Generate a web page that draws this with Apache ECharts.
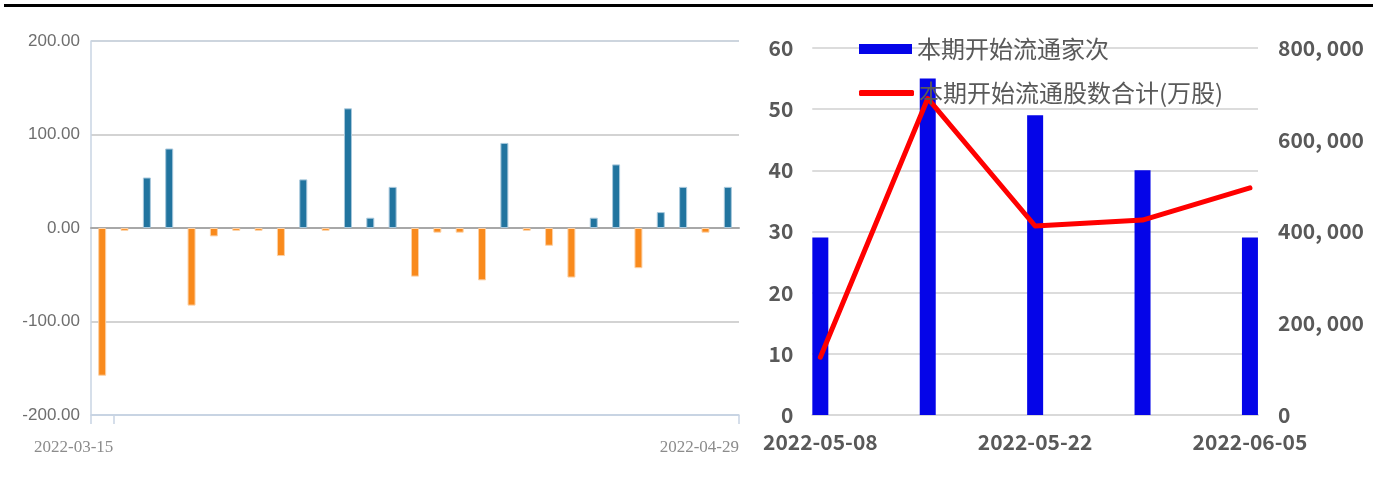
<!DOCTYPE html>
<html>
<head>
<meta charset="utf-8">
<title>流通股本变动</title>
<script src="https://cdn.jsdelivr.net/npm/echarts@6.0.0/dist/echarts.min.js"></script>
<style>
	html, body { margin: 0; padding: 0; background: #fff; }
	#topLine { position: absolute; left: 4px; top: 4px; width: 1369px; height: 3px; background: #000; }
	#chart1 { position: absolute; left: 0; top: 0; width: 760px; height: 477px; }
	#chart2 { position: absolute; left: 760px; top: 0; width: 621px; height: 477px; }
</style>
</head>
<body>
<div id="topLine"></div>
<div id="chart1"></div>
<div id="chart2"></div>
<script>
// 左图：每日净值（亿元）
var leftDates = ['2022-03-15','2022-03-17','2022-03-18','2022-03-21','2022-03-22','2022-03-24','2022-03-25',
	'2022-03-28','2022-03-29','2022-03-30','2022-03-31','2022-04-01','2022-04-06','2022-04-07','2022-04-08',
	'2022-04-11','2022-04-12','2022-04-14','2022-04-15','2022-04-18','2022-04-19','2022-04-20','2022-04-21',
	'2022-04-22','2022-04-25','2022-04-26','2022-04-27','2022-04-28','2022-04-29'];
var leftValues = [-158, -3, 54, 85, -83, -9, -3, -3, -30, 52, -3, 128, 11, 44, -52,
	-5, -5, -56, 91, -3, -19, -53, 11, 68, -43, 17, 44, -5, 44];
var leftTicks = [-200, -100, 0, 100, 200];

// 右图：解禁
var rightDates = ['2022-05-08','2022-05-15','2022-05-22','2022-05-29','2022-06-05'];
var rightCount = [29, 55, 49, 40, 29];
var rightShares = [126000, 690000, 412000, 425000, 495000];
var rightNames = ['本期开始流通家次', '本期开始流通股数合计(万股)'];

var Demo = {
	init: function () {
		Demo.initLeft();
		Demo.initRight();
	},

	initLeft: function () {
		var myChart = echarts.init(document.getElementById('chart1'));
		var barData = leftValues.map(function (v) {
			var up = v >= 0;
			return {
				value: v,
				itemStyle: {
					color: up ? '#21749f' : '#f98a1c',
					borderColor: up ? '#a8c8dc' : '#fcd1a6',
					borderWidth: 1
				}
			};
		});
		var option = {
			animation: false,
			grid: { left: 91, right: 21, top: 41, bottom: 62 },
			xAxis: [
				{
					type: 'category',
					data: leftDates,
					axisLine: { onZero: true, lineStyle: { color: '#a8a8a8', width: 2 } },
					axisTick: { show: false },
					axisLabel: { show: false }
				},
				{
					type: 'value',
					position: 'bottom',
					min: -0.5,
					max: leftDates.length - 0.5,
					splitLine: { show: false },
					axisLine: { show: true, onZero: false, lineStyle: { color: '#c8d4e3', width: 1.5 } },
					axisTick: { show: true, length: 9, customValues: [-0.5, 0.5, leftDates.length - 0.5], lineStyle: { color: '#c8d4e3', width: 1.5 } },
					axisLabel: {
						customValues: [0.5, leftDates.length - 0.5],
						formatter: function (v) { return leftDates[Math.floor(v)]; },
						align: 'right',
						margin: 24,
						color: '#8c8c8c',
						fontSize: 17,
						fontFamily: 'Liberation Serif'
					}
				}
			],
			yAxis: {
				type: 'value',
				min: leftTicks[0],
				max: leftTicks[leftTicks.length - 1],
				interval: 100,
				axisLine: { show: true, onZero: false, lineStyle: { color: '#c8d4e3', width: 1.5 } },
				axisTick: { show: false },
				splitLine: { lineStyle: { color: ['#c8d4e3', '#d3d3d3', '#d3d3d3', '#d3d3d3', '#cdd5de'], width: 2 } },
				axisLabel: {
					formatter: function (v) { return v.toFixed(2); },
					margin: 11,
					color: '#6e6e6e',
					fontSize: 17,
					fontFamily: 'Liberation Sans'
				}
			},
			series: [{
				type: 'bar',
				xAxisIndex: 0,
				barWidth: 8,
				data: barData
			}]
		};
		myChart.setOption(option, true);
	},

	initRight: function () {
		var myChart = echarts.init(document.getElementById('chart2'));
		var font = 'Noto Sans CJK SC';
		var legendText = { color: '#595959', fontSize: 24, fontFamily: font };
		var option = {
			animation: false,
			grid: { left: 50, right: 123, top: 48, bottom: 62 },
			legend: [
				{
					left: 94,
					top: 32,
					itemWidth: 53,
					itemHeight: 10,
					textStyle: legendText,
					data: [{ name: rightNames[0], icon: 'rect' }]
				},
				{
					left: 94,
					top: 76,
					itemWidth: 55,
					itemHeight: 6,
					textStyle: legendText,
					data: [{ name: rightNames[1], icon: 'roundRect' }]
				}
			],
			xAxis: {
				type: 'value',
				min: -0.075,
				max: rightDates.length - 1 + 0.075,
				splitLine: { show: false },
				axisLine: { show: true, lineStyle: { color: '#d9d9d9', width: 2 } },
				axisTick: { show: false },
				axisLabel: {
					customValues: [0, 2, 4],
					formatter: function (v) { return rightDates[Math.round(v)]; },
					margin: 17,
					color: '#595959',
					fontSize: 21,
					fontWeight: 'bold',
					fontFamily: font
				}
			},
			yAxis: [
				{
					type: 'value',
					min: 0,
					max: 60,
					interval: 10,
					axisLine: { show: false },
					axisTick: { show: false },
					splitLine: { lineStyle: { color: '#dcdcdc', width: 2 } },
					axisLabel: { margin: 19, color: '#595959', fontSize: 21, fontWeight: 'bold', fontFamily: font }
				},
				{
					type: 'value',
					min: 0,
					max: 800000,
					interval: 200000,
					axisLine: { show: false },
					axisTick: { show: false },
					splitLine: { show: false },
					axisLabel: {
						margin: 20,
						color: '#595959',
						fontSize: 21,
						fontWeight: 'bold',
						fontFamily: font,
						formatter: function (v) { return v.toLocaleString('en-US').replace(/,/g, ', '); }
					}
				}
			],
			series: [
				{
					name: rightNames[0],
					type: 'bar',
					yAxisIndex: 0,
					barWidth: 16,
					itemStyle: { color: '#0505e8' },
					data: rightCount.map(function (v, i) { return [i, v]; })
				},
				{
					name: rightNames[1],
					type: 'line',
					yAxisIndex: 1,
					symbol: 'none',
					lineStyle: { color: '#ff0000', width: 5, cap: 'round', join: 'round' },
					itemStyle: { color: '#ff0000' },
					data: rightShares.map(function (v, i) { return [i, v]; })
				}
			]
		};
		myChart.setOption(option, true);
	}
};

window.onload = function () {
	Demo.init();
};
</script>
</body>
</html>
